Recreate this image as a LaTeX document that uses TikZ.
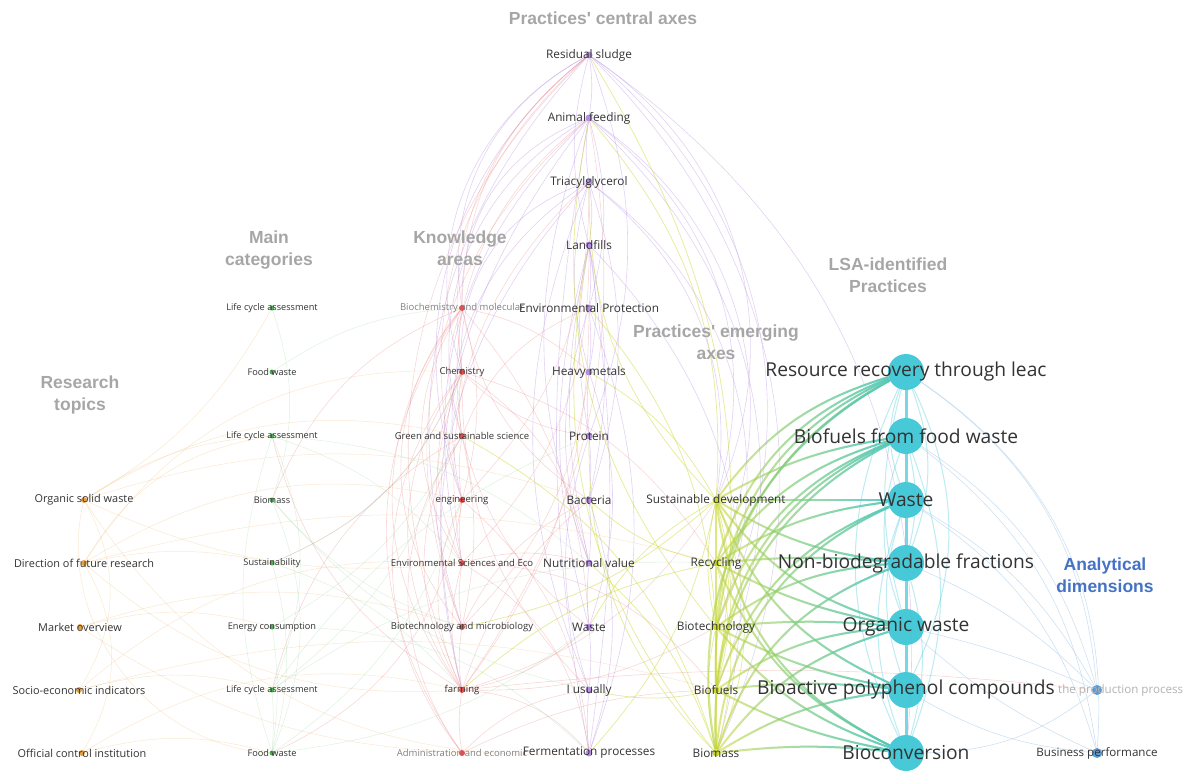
\documentclass[tikz,border=0pt]{standalone}
\usepackage{fontspec}
\setmainfont{Open Sans}
\newfontfamily\headfont{Liberation Sans}
\usetikzlibrary{fadings}
\pgfdeclarelayer{edges}
\pgfsetlayers{edges,main}
\definecolor{txt}{HTML}{333333}
\definecolor{headgray}{HTML}{A6A6A6}
\definecolor{headblue}{HTML}{4472C4}
\definecolor{rtc}{HTML}{E8A040}
\definecolor{mcc}{HTML}{4CAF50}
\definecolor{kac}{HTML}{E05050}
\definecolor{cac}{HTML}{B48EE0}
\definecolor{eac}{HTML}{C8D62A}
\definecolor{lsc}{HTML}{3EC6D6}
\definecolor{adc}{HTML}{5B9BD5}
\tikzset{
  dot/.style={circle, inner sep=0pt, minimum size=7pt, fill=#1},
  bigdot/.style={circle, inner sep=0pt, minimum size=36pt, fill=lsc, fill opacity=.95},
  lbl/.style={inner sep=0pt, text=txt},
  fs/.style={font=\fontsize{#1}{#1}\selectfont},
  head/.style={font=\headfont\bfseries\fontsize{17.5}{22}\selectfont, text=headgray, align=center},
  eP/.style={draw=cac, opacity=.4, line width=.6pt},
  eR/.style={draw=kac!75, opacity=.3, line width=.6pt},
  eO/.style={draw=rtc!70, opacity=.35, line width=.5pt},
  eG/.style={draw=mcc!60, opacity=.3, line width=.5pt},
  eY/.style={draw=eac, opacity=.45, line width=.8pt},
  eYel/.style={draw=eac, opacity=.55, line width=2pt},
  eTeal/.style={draw=lsc, opacity=.8, line width=2pt, path fading=west},
  eT/.style={draw=lsc, opacity=.35, line width=1pt},
  eB/.style={draw=adc!50, opacity=.6, line width=.6pt}
}
\begin{document}
\begin{tikzpicture}[x=1pt,y=-1pt]
\useasboundingbox (0,0) rectangle (1186,780);

% headings
\node[head] (h1) at (603,18) {Practices' central axes};
\node[head] (h2) at (269,250) {Main\\categories};
\node[head] (h3) at (460,248) {Knowledge\\areas};
\node[head] (h4) at (80,395) {Research\\topics};
\node[head] (h5) at (888,275) {LSA-identified\\Practices};
\node[head] (h6) at (716,342) {Practices' emerging\\axes};
\node[head, text=headblue] (h7) at (1105,575) {Analytical\\dimensions};

% research topics
\foreach \n/\x/\y in {1/84/500,2/84/563,3/80/627,4/79/690,5/82/753}
  \node[dot=rtc, minimum size=6pt] (rt\n) at (\x,\y) {};
\foreach \n/\t in {1/Organic solid waste,2/Direction of future research,3/Market overview,4/Socio-economic indicators,5/Official control institution}
  \node[lbl, fs=10.9] (rt\n-t) at (rt\n) {\t};

% main categories
\foreach \n/\y in {1/308,2/372,3/436,4/500,5/563,6/627,7/690,8/753}
  \node[dot=mcc, minimum size=5pt] (mc\n) at (272,\y) {};
\foreach \n/\t in {1/Life cycle assessment,2/Food waste,3/Life cycle assessment,4/Biomass,5/Sustainability,6/Energy consumption,7/Life cycle assessment,8/Food waste}
  \node[lbl, fs=9.2] (mc\n-t) at (mc\n) {\t};

% knowledge areas
\foreach \n/\y in {1/308,2/372,3/436,4/500,5/563,6/627,7/690,8/753}
  \node[dot=kac, minimum size=6pt] (ka\n) at (462,\y) {};
\node[lbl, fs=9.5, text=gray] (ka1-t) at (ka1) {Biochemistry and molecular};
\foreach \n/\t in {2/Chemistry,3/Green and sustainable science,4/engineering,5/Environmental Sciences and Eco,6/Biotechnology and microbiology,7/farming}
  \node[lbl, fs=9.5] (ka\n-t) at (ka\n) {\t};
\node[lbl, fs=9.5, text=gray] (ka8-t) at (ka8) {Administration and economic};

% central axes
\foreach \n/\y in {1/55,2/118,3/182,4/245,5/308,6/372,7/436,8/500,9/563,10/627,11/690,12/753}
  \node[dot=cac] (ca\n) at (589,\y) {};
\foreach \n/\t in {1/Residual sludge,2/Animal feeding,3/Triacylglycerol,4/Landfills,5/Environmental Protection,6/Heavy metals,7/Protein,8/Bacteria,9/Nutritional value,10/Waste,11/I usually,12/Fermentation processes}
  \node[lbl, fs=11.8] (ca\n-t) at (ca\n) {\t};

% emerging axes
\foreach \n/\y in {1/500,2/563,3/627,4/690,5/753}
  \node[dot=eac] (ea\n) at (716,\y) {};
\foreach \n/\t in {1/Sustainable development,2/Recycling,3/Biotechnology,4/Biofuels,5/Biomass}
  \node[lbl, fs=11.8] (ea\n-t) at (ea\n) {\t};

% LSA practices
\foreach \n/\y in {1/372,2/436,3/500,4/563,5/627,6/690,7/753}
  \node[bigdot] (ls\n) at (906,\y) {};
\foreach \n/\t in {1/Resource recovery through leac,2/Biofuels from food waste,3/Waste,4/Non-biodegradable fractions,5/Organic waste,6/Bioactive polyphenol compounds,7/Bioconversion}
  \node[lbl, fs=19.2] (ls\n-t) at (ls\n) {\t};

% analytical dimensions
\node[dot=adc, minimum size=10pt] (ad1) at (1097,690) {};
\node[dot=adc, minimum size=10pt] (ad2) at (1097,753) {};
\node[lbl, fs=11.6, text=gray!60, anchor=west] (ad1-t) at (1058,690) {the production process};
\node[lbl, fs=11.6] (ad2-t) at (ad2) {Business performance};

\begin{pgfonlayer}{edges}
% purple
\foreach \a/\b/\c in {ca1/ca2/8,ca2/ca3/-8,ca3/ca4/8,ca4/ca5/5,ca5/ca6/5,ca6/ca7/-5,ca7/ca8/5,ca8/ca9/5,ca9/ca10/-5,ca10/ca11/5,ca11/ca12/-5,ca4/ca6/10,ca4/ca7/-10,ca4/ca8/12,ca4/ca9/-12,ca4/ca10/-15,ca4/ca12/8,ca1/ca4/-15,ca2/ca5/15,ca3/ca6/-15,ca3/ca8/18,ca5/ca9/-18,ca6/ca10/18,ca7/ca11/-18,ca8/ca12/18,ca2/ca9/-20,ca1/ca7/20,ca5/ca12/20,ca3/ca11/-22,ca2/ca12/-10,ca1/ka1/-35,ca1/ka2/-40,ca1/ka4/-35,ca1/ka6/-30,ca2/ka1/-35,ca2/ka3/-38,ca2/ka5/-30,ca3/ka2/-38,ca3/ka4/-35,ca3/ka7/-28,ca2/ka7/-25,ca1/ea1/40,ca1/ea3/38,ca1/ea5/35,ca2/ea2/40,ca2/ea4/35,ca3/ea3/38,ca4/ea5/30,ca1/ls7/30,ca2/ea1/35,ca3/ea1/30}
  \draw[eP] (\a) to[bend left=\c] (\b);
% red
\foreach \a/\b/\c in {ka1/ka7/-38,ka1/ka8/-35,ka2/ka7/-35,ka1/ka5/-32,ka2/ka8/-38,ka3/ka7/-30,ka1/ka3/-20,ka2/ka5/-25,ka4/ka7/-25,ka3/ka8/-35,ka1/ka6/-40,ka2/ka6/-20,ka5/ka7/-15,ka6/ka7/-8,ka1/ka2/-8,ka2/ka3/-8,ka3/ka4/-8,ka4/ka5/-8,ka5/ka6/-8,ka7/ka8/-8,ka1/ka4/15,ka3/ka6/12,ka1/ca6/15,ka1/ca8/-22,ka1/ca10/18,ka2/ca7/-18,ka2/ca9/22,ka2/ca11/-22,ka3/ca5/22,ka3/ca10/-18,ka4/ca3/-22,ka4/ca12/22,ka5/ca4/-22,ka5/ca9/15,ka6/ca6/-18,ka6/ca8/18,ka7/ca2/-22,ka7/ca5/-18,ka7/ca8/15,ka7/ca10/-15,ka7/ca12/22,ka8/ca11/18,ka5/ca12/25,ka1/ca1/25,ka2/ca1/30,ka3/ca2/30,ka4/ca1/32,ka6/ca2/35,ka7/ca1/35,ka5/ca3/28,ka7/ea1/-20,ka2/ea2/20,ka5/ea4/25,ka7/ea3/-15,ka8/ea4/12,ka7/ad1/6,ka2/mc5/22,ka3/mc7/-22,ka4/mc8/28,ka1/mc4/-22,ka7/mc3/22}
  \draw[eR] (\a) to[bend left=\c] (\b);
% orange
\foreach \a/\b/\c in {rt1/mc3/15,rt1/ka3/22,rt1/ka5/-15,rt1/ca8/18,rt2/mc5/12,rt2/ka4/22,rt2/ka7/-22,rt2/ea2/15,rt3/mc6/15,rt3/ka6/18,rt3/ka8/-15,rt4/mc7/15,rt4/ka5/22,rt5/mc8/15,rt5/ka7/22,rt1/rt4/30,rt2/rt5/30,rt1/mc1/-15,rt1/ca12/-30,rt4/ea4/15,rt2/ka2/30,rt1/mc8/-50,rt2/mc3/25}
  \draw[eO] (\a) to[bend left=\c] (\b);
% green
\foreach \a/\b/\c in {mc3/mc7/22,mc4/mc8/22,mc3/mc8/-18,mc5/mc8/15,mc1/mc4/18,mc3/ka5/15,mc4/ka6/-15,mc5/ka7/15,mc6/ka3/-15,mc7/ka2/-22,mc8/ka4/-18,mc3/ca9/18,mc4/ca11/-18,mc5/ka2/-22,mc7/ca7/15,mc8/ca10/-15,mc2/ka1/15,mc6/ca12/22,mc7/ea2/18,mc6/mc8/8,mc7/mc8/4}
  \draw[eG] (\a) to[bend left=\c] (\b);
% yellow
\foreach \a/\b/\c in {ea1/ea5/22,ea1/ea4/15,ea2/ea5/15,ea1/ea3/-12,ea3/ea5/-12,ea1/ca10/-15,ea1/ca12/15,ea1/ca6/-15,ea2/ca8/15,ea5/ca7/22,ea5/ca9/-15,ea4/ca11/12,ea3/ca5/-18,ea1/ca2/-22,ea1/ca3/22,ea1/ka6/15,ea5/ka3/-22,ea2/ka7/-15,ea5/ca4/25,ea3/ca2/25,ea4/ca1/-20}
  \draw[eY] (\a) to[bend left=\c] (\b);
\foreach \a/\b in {ea1/ea2,ea2/ea3,ea3/ea4,ea4/ea5}
  \draw[eY, line width=2.2pt, opacity=.6] (\a) -- (\b);
% emerging to LSA
\foreach \a/\b/\c in {ea1/ls1/18,ea1/ls2/10,ea1/ls3/0,ea1/ls4/-12,ea1/ls5/-18,ea1/ls6/-22,ea1/ls7/-28,ea2/ls1/25,ea2/ls2/18,ea2/ls3/12,ea2/ls4/5,ea2/ls5/-8,ea2/ls7/-20,ea3/ls1/30,ea3/ls2/24,ea3/ls4/15,ea3/ls5/5,ea3/ls6/-8,ea3/ls7/-15,ea4/ls1/32,ea4/ls2/30,ea4/ls3/24,ea4/ls5/15,ea4/ls6/6,ea4/ls7/-8,ea5/ls1/36,ea5/ls2/33,ea5/ls3/30,ea5/ls4/25,ea5/ls5/18,ea5/ls6/12,ea5/ls7/6}
  {\draw[eYel] (\a) to[bend left=\c] (\b);
   \draw[eTeal] (\a) to[bend left=\c] (\b);}
% LSA internal
\foreach \a/\b in {ls1/ls2,ls2/ls3,ls3/ls4,ls4/ls5,ls5/ls6,ls6/ls7}
  \draw[eT, opacity=.7, line width=3pt] (\a) -- (\b);
\foreach \a/\b/\c in {ls1/ls3/-20,ls1/ls4/20,ls1/ls7/-25,ls2/ls5/-20,ls2/ls7/20,ls3/ls6/-18,ls1/ls6/25,ls2/ls4/12,ls3/ls7/-20,ls4/ls7/15,ls1/ls5/-15}
  \draw[eT] (\a) to[bend left=\c] (\b);
% analytical
\foreach \a/\b/\c in {ls1/ad1/25,ls1/ad2/30,ls2/ad1/20,ls3/ad1/15,ls3/ad2/20,ls4/ad1/10,ls5/ad1/5,ls6/ad2/-12,ls7/ad1/-18,ls5/ad2/-8,ls2/ad2/22}
  \draw[eB] (\a) to[bend left=\c] (\b);
\end{pgfonlayer}
\end{tikzpicture}
\end{document}
